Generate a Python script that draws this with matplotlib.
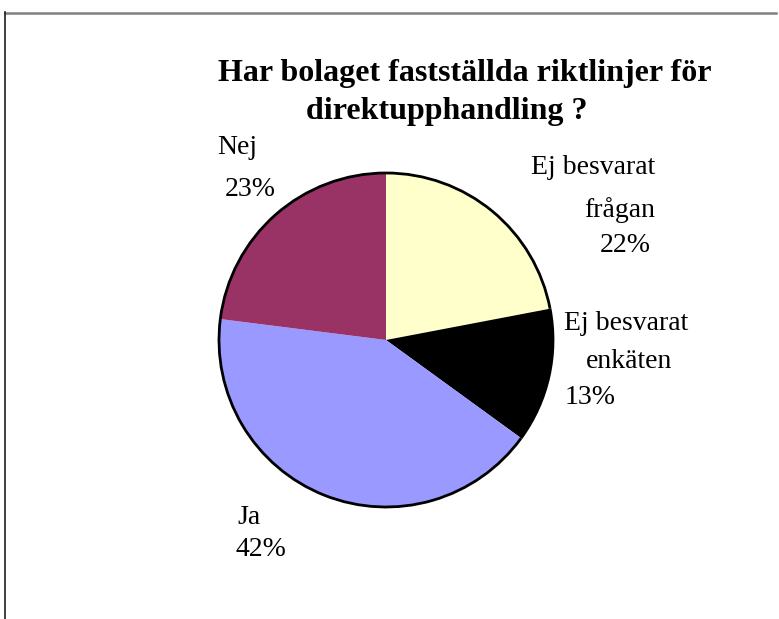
import matplotlib
matplotlib.use("Agg")
import matplotlib.pyplot as plt
from matplotlib.patches import Arc
from matplotlib.lines import Line2D

# Data (clockwise from 12 o'clock)
categories = ["Ej besvarat frågan", "Ej besvarat enkäten", "Ja", "Nej"]
percent = [22, 13, 42, 23]
colors = ["#FFFFCC", "#000000", "#9999FF", "#993366"]
title_lines = ["Har bolaget fastställda riktlinjer för", "direktupphandling ?"]

# label lines per slice (name lines, then the percentage)
label_lines = [["Ej besvarat", "frågan"], ["Ej besvarat", "enkäten"], ["Ja"], ["Nej"]]

W, H = 779, 619
plt.rcParams['font.family'] = ['Liberation Serif', 'DejaVu Serif']

fig = plt.figure(figsize=(W / 100, H / 100), dpi=100)
ax = fig.add_axes([0, 0, 1, 1])

cx, cy, r = 386, H - 340, 167
wedges, _ = ax.pie(percent, colors=colors, startangle=90, counterclock=False,
                   center=(cx, cy), radius=r, explode=[0, 0, 0, 0.015],
                   wedgeprops=dict(linewidth=0), frame=True)
ax.set_xlim(0, W)
ax.set_ylim(0, H)
ax.set_aspect('equal')
ax.axis('off')

# black outline on the outer arc only
for w in wedges:
    ax.add_patch(Arc(w.center, 2 * w.r, 2 * w.r, theta1=w.theta1, theta2=w.theta2,
                     color='black', lw=2))

# title, two lines placed like the original
for t, (x, y) in zip(title_lines, [(465, 73), (447, 111)]):
    ax.text(x, H - y, t, ha='center', va='center', fontsize=23, fontweight='bold')

# label placement (pixel coords, y from top): list of (x, y, ha) per line
spots = [
    [(655, 168, 'right'), (655, 210, 'right'), (651, 245, 'right')],
    [(688, 323, 'right'), (672, 361, 'right'), (565, 397, 'left')],
    [(237, 517, 'left'), (236, 549, 'left')],
    [(217, 148, 'left'), (225, 190, 'left')],
]
for lines, pct, pos in zip(label_lines, percent, spots):
    texts = lines + [f"{pct}%"]
    for t, (x, y, ha) in zip(texts, pos):
        ax.text(x, H - y, t, ha=ha, va='center', fontsize=20)

# chart frame (cut off at right and bottom)
fig.add_artist(Line2D([5 / W, 776 / W], [1 - 12.5 / H, 1 - 12.5 / H],
                      transform=fig.transFigure, color='#808080', lw=1.8))
fig.add_artist(Line2D([5 / W, 5 / W], [1 - 12 / H, 0],
                      transform=fig.transFigure, color='#202020', lw=1.2))

fig.savefig("out.png", dpi=100)
